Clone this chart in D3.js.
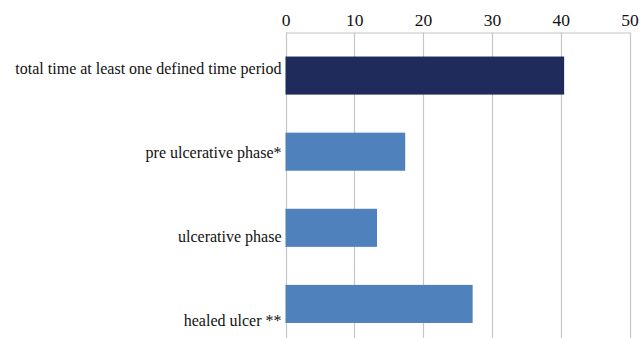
<!DOCTYPE html>
<html>
<head>
<meta charset="utf-8">
<script src="https://cdn.jsdelivr.net/npm/d3@7"></script>
<style>
  html, body { margin: 0; padding: 0; background: #fff; }
  svg { display: block; }
</style>
</head>
<body>
<svg id="chart" width="640" height="338"></svg>
<script>
// Categories and values, top to bottom
const categories = [
  "total time at least one defined time period",
  "pre ulcerative phase*",
  "ulcerative phase",
  "healed ulcer **"
];
const values = [40.5, 17.4, 13.3, 27.2];
const barColors = ["#1f2c5b", "#4f81bd", "#4f81bd", "#4f81bd"];
const tickValues = [0, 10, 20, 30, 40, 50];

const SERIF = "Liberation Serif";

(function draw() {
  const svg = d3.select("#chart");
  const plotLeft = 285.5, plotRight = 629.5, axisY = 32.5, plotBottom = 342;

  const x = d3.scaleLinear().domain([0, 50]).range([plotLeft, plotRight]);
  const y = d3.scaleBand().domain(categories).range([37.5, plotBottom]).paddingInner(0.5).paddingOuter(0.25);
  // label rows sit on their own slightly wider spacing
  const yLabel = d3.scalePoint().domain(categories).range([68, 320]);

  // vertical gridlines
  svg.append("g")
    .selectAll("line")
    .data(tickValues)
    .join("line")
    .attr("x1", d => Math.round(x(d)) + 0.5)
    .attr("x2", d => Math.round(x(d)) + 0.5)
    .attr("y1", axisY)
    .attr("y2", 338)
    .attr("stroke", "#c6c6c6")
    .attr("stroke-width", 1.2);

  // top axis
  const axis = d3.axisTop(x).tickValues(tickValues).tickSize(0).tickPadding(7);
  const gAxis = svg.append("g").attr("transform", `translate(0,${axisY})`).call(axis);
  gAxis.attr("font-family", null).attr("font-size", null);
  gAxis.select(".domain").attr("stroke", "#c6c6c6").attr("stroke-width", 1.2);
  gAxis.selectAll("text")
    .style("font-family", SERIF)
    .style("font-size", "17.5px")
    .attr("fill", "#111");

  // bars
  svg.append("g")
    .selectAll("rect")
    .data(categories)
    .join("rect")
    .attr("x", x(0))
    .attr("y", d => y(d))
    .attr("width", (d, i) => x(values[i]) - x(0))
    .attr("height", y.bandwidth())
    .attr("fill", (d, i) => barColors[i]);

  // category labels
  svg.append("g")
    .selectAll("text")
    .data(categories)
    .join("text")
    .attr("x", plotLeft - 4)
    .attr("y", d => yLabel(d))
    .attr("dy", "0.35em")
    .attr("text-anchor", "end")
    .style("font-family", SERIF)
    .style("font-size", "16px")
    .attr("fill", "#111")
    .text(d => d);
})();
</script>
</body>
</html>
